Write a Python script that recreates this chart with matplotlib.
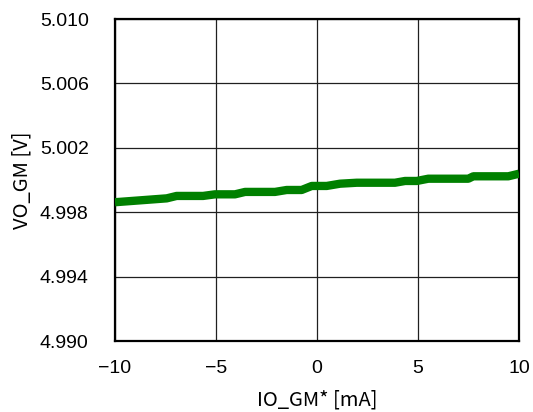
import matplotlib
matplotlib.use("Agg")
import matplotlib.pyplot as plt

io_ma = [-10.0, -7.44, -6.95, -5.64, -5.05, -4.06, -3.56, -2.08, -1.50, -0.76, -0.26, 0.48,
         1.14, 1.97, 3.86, 4.36, 4.94, 5.51, 7.49, 7.74, 9.47, 10.0]
vo_v = [4.99862, 4.99886, 4.99901, 4.99901, 4.99911, 4.99911, 4.99926, 4.99926, 4.99938, 4.99938,
        4.99963, 4.99963, 4.99977, 4.99983, 4.99983, 4.99994, 4.99994, 5.00008, 5.00008,
        5.00023, 5.00023, 5.00039]
xticks = [-10, -5, 0, 5, 10]
yticks = [4.990, 4.994, 4.998, 5.002, 5.006, 5.010]
ytick_labels = ["4.990", "4.994", "4.998", "5.002", "5.006", "5.010"]

plt.rcParams['font.family'] = ['Liberation Sans', 'DejaVu Sans']
fig = plt.figure(figsize=(5.33, 4.12), dpi=100)
ax = fig.add_axes([115/533, 1-341/412, (519-115)/533, (341-19)/412])
ax.plot(io_ma, vo_v, color='#008000', lw=6, solid_capstyle='butt', solid_joinstyle='round', zorder=3)
ax.set_xlim(-10, 10)
ax.set_ylim(4.990, 5.010)
ax.set_xticks(xticks)
ax.set_xticklabels([("\u2212" + str(-t)) if t < 0 else str(t) for t in xticks])
ax.set_yticks(yticks)
ax.set_yticklabels(ytick_labels)
ax.grid(True, color='#202020', lw=0.9)
ax.tick_params(axis='both', length=0, labelsize=14, colors='black')
ax.tick_params(axis='y', pad=19)
ax.tick_params(axis='x', pad=14)
for s in ax.spines.values():
    s.set_linewidth(1.6)
    s.set_color('black')
ax.set_xlabel("IO_GM* [mA]", fontsize=14.5, family=['Noto Sans CJK JP', 'DejaVu Sans'])
ax.set_ylabel("VO_GM [V]", fontsize=14.5, family=['Noto Sans CJK JP', 'DejaVu Sans'])
ax.yaxis.set_label_coords(-0.205, 0.5)
ax.xaxis.set_label_coords(0.5, -0.152)
fig.savefig("out.png", dpi=100)
